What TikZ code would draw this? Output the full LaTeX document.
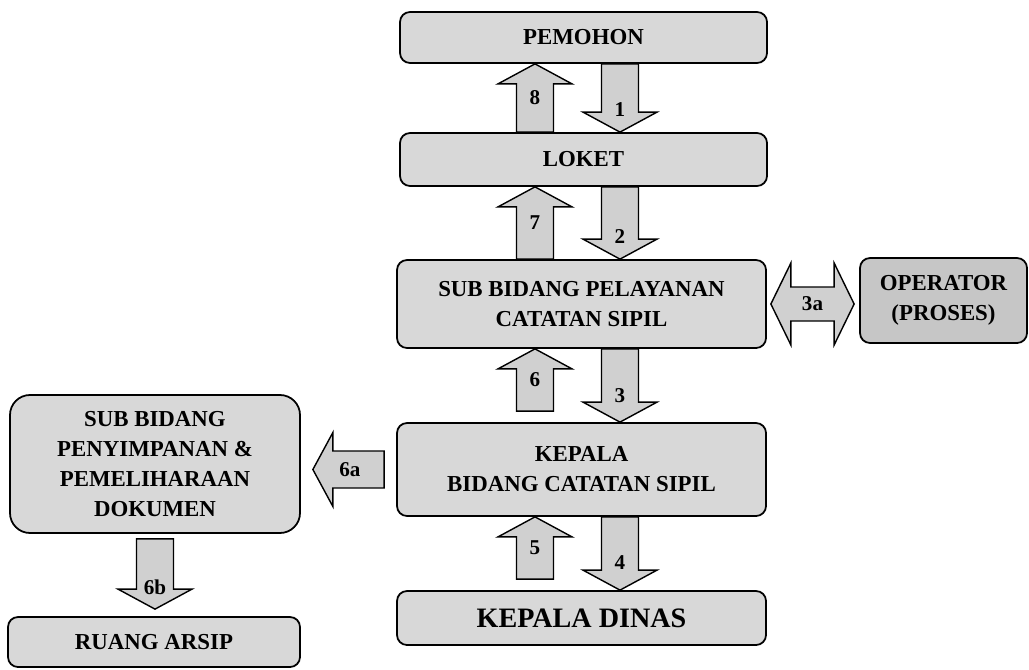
\documentclass[tikz,border=0pt]{standalone}
\usepackage{fontspec}
\setmainfont{Liberation Serif}
\usepackage{tikz}
\usetikzlibrary{calc}
\definecolor{BoxGray}{RGB}{216,216,216}
\definecolor{DarkGray}{RGB}{198,198,198}
\definecolor{ArrowGray}{RGB}{208,208,208}
\tikzset{
  box/.style={draw=black, line width=1pt, fill=BoxGray, rounded corners=0.2cm, align=center, inner sep=0pt, font=\fontsize{13}{17}\selectfont\bfseries},
  blockarrow/.style={draw=black, line width=0.8pt, fill=ArrowGray},
  arrlabel/.style={inner sep=1pt, font=\fontsize{12}{14}\selectfont\bfseries}
}
\newcommand{\blockarr}[4][0.5]{%
  \coordinate (ba) at #2;
  \coordinate (bb) at #3;
  \coordinate (bh) at ($(bb)!0.4cm!(ba)$);
  \draw[blockarrow] ($(ba)!0.37cm!90:(bb)$) -- ($(bh)!0.37cm!90:(bb)$) -- ($(bh)!0.74cm!90:(bb)$) -- (bb)
    -- ($(bh)!0.74cm!-90:(bb)$) -- ($(bh)!0.37cm!-90:(bb)$) -- ($(ba)!0.37cm!-90:(bb)$) -- cycle;
  \node[arrlabel] (lbl#4) at ($(ba)!#1!(bb)$) {#4};
}
\newcommand{\dblarr}[3]{%
  \coordinate (ba) at #1;
  \coordinate (bb) at #2;
  \coordinate (bt) at ($(ba)!0.4cm!(bb)$);
  \coordinate (bh) at ($(bb)!0.4cm!(ba)$);
  \draw[blockarrow] (ba) -- ($(bt)!0.82cm!90:(bb)$) -- ($(bt)!0.34cm!90:(bb)$) -- ($(bh)!0.34cm!90:(bb)$) -- ($(bh)!0.82cm!90:(bb)$) -- (bb)
    -- ($(bh)!0.82cm!-90:(bb)$) -- ($(bh)!0.34cm!-90:(bb)$) -- ($(bt)!0.34cm!-90:(bb)$) -- ($(bt)!0.82cm!-90:(bb)$) -- cycle;
  \node[arrlabel] (lbl#3) at ($(ba)!0.5!(bb)$) {#3};
}

\begin{document}
\begin{tikzpicture}
    \useasboundingbox (0,0) rectangle (20.58,13.38);

    \node[box, minimum width=7.34cm, minimum height=1.02cm] (pemohon) at (11.67,12.63) {PEMOHON};

    \node[box, minimum width=7.34cm, minimum height=1.06cm] (loket) at (11.67,10.19) {LOKET};

    \node[box, minimum width=7.38cm, minimum height=1.76cm] (pelayanan) at (11.63,7.30) {SUB BIDANG PELAYANAN\\CATATAN SIPIL};

    \node[box, fill=DarkGray, minimum width=3.34cm, minimum height=1.70cm] (operator) at (18.87,7.37) {OPERATOR\\(PROSES)};

    \node[box, minimum width=7.38cm, minimum height=1.86cm] (kepala) at (11.63,3.99) {KEPALA\\BIDANG CATATAN SIPIL};

    \node[box, rounded corners=0.4cm, minimum width=5.8cm, minimum height=2.76cm] (penyimpanan) at (3.10,4.10) {SUB BIDANG\\PENYIMPANAN \&\\PEMELIHARAAN\\DOKUMEN};

    \node[box, font=\fontsize{16}{18}\selectfont\bfseries, minimum width=7.38cm, minimum height=1.08cm] (dinas) at (11.63,1.02) {KEPALA DINAS};

    \node[box, minimum width=5.84cm, minimum height=1.0cm] (arsip) at (3.08,0.54) {RUANG ARSIP};

    \coordinate (upx) at (10.70,0);
    \coordinate (dnx) at (12.40,0);

    \blockarr{(loket.north -| upx)}{(pemohon.south -| upx)}{8}
    \blockarr[0.67]{(pemohon.south -| dnx)}{(loket.north -| dnx)}{1}
    \blockarr{(pelayanan.north -| upx)}{(loket.south -| upx)}{7}
    \blockarr[0.69]{(loket.south -| dnx)}{(pelayanan.north -| dnx)}{2}
    \blockarr{($(kepala.north -| upx)+(0,0.22)$)}{(pelayanan.south -| upx)}{6}
    \blockarr[0.64]{(pelayanan.south -| dnx)}{(kepala.north -| dnx)}{3}
    \blockarr{($(dinas.north -| upx)+(0,0.22)$)}{(kepala.south -| upx)}{5}
    \blockarr[0.62]{(kepala.south -| dnx)}{(dinas.north -| dnx)}{4}
    \blockarr[0.48]{($(kepala.west)+(-0.24,0)$)}{($(kepala.west -| penyimpanan.east)+(0.24,0)$)}{6a}
    \blockarr[0.69]{($(penyimpanan.south)+(0,-0.1)$)}{($(arsip.north -| penyimpanan.south)+(0,0.14)$)}{6b}
    \dblarr{($(pelayanan.east)+(0.08,0)$)}{($(pelayanan.east -| operator.west)+(-0.1,0)$)}{3a}

\end{tikzpicture}
\end{document}
